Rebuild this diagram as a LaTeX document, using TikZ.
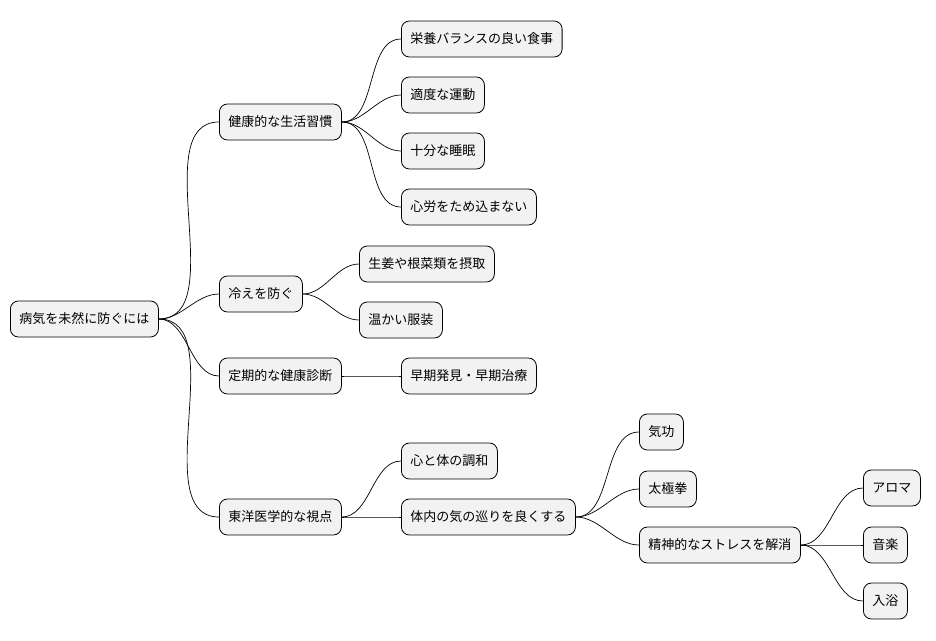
\documentclass[tikz,border=0pt]{standalone}
\usepackage{fontspec}
\setmainfont{Noto Sans CJK JP}
\begin{document}
\begin{tikzpicture}[x=1pt,y=-1pt,
  box/.style={draw=black,line width=0.8pt,fill=black!5,rounded corners=8pt,minimum height=36pt,inner xsep=9pt,anchor=west,font=\fontsize{13}{15}\selectfont},
  link/.style={line width=0.7pt,out=0,in=180,looseness=0.9}]
\useasboundingbox (0,0) rectangle (936,640);
\node[box] (r) at (10,319) {病気を未然に防ぐには};
\node[box] (a) at (219,122) {健康的な生活習慣};
\node[box] (b) at (219,294) {冷えを防ぐ};
\node[box] (c) at (219,376) {定期的な健康診断};
\node[box] (d) at (219,517) {東洋医学的な視点};
\node[box] (a1) at (401,39) {栄養バランスの良い食事};
\node[box] (a2) at (401,95) {適度な運動};
\node[box] (a3) at (401,151) {十分な睡眠};
\node[box] (a4) at (401,207) {心労をため込まない};
\node[box] (b1) at (359,264) {生姜や根菜類を摂取};
\node[box] (b2) at (359,320) {温かい服装};
\node[box] (c1) at (401,376) {早期発見・早期治療};
\node[box] (d1) at (401,461) {心と体の調和};
\node[box] (d2) at (401,517) {体内の気の巡りを良くする};
\node[box] (e1) at (639,432) {気功};
\node[box] (e2) at (639,489) {太極拳};
\node[box] (e3) at (639,545) {精神的なストレスを解消};
\node[box] (f1) at (863,488) {アロマ};
\node[box] (f2) at (863,545) {音楽};
\node[box] (f3) at (863,601) {入浴};
\foreach \p/\c in {r/a,r/b,r/c,r/d,a/a1,a/a2,a/a3,a/a4,b/b1,b/b2,c/c1,d/d1,d/d2,d2/e1,d2/e2,d2/e3,e3/f1,e3/f2,e3/f3}
  \draw[link] (\p.east) to (\c.west);
\end{tikzpicture}
\end{document}
